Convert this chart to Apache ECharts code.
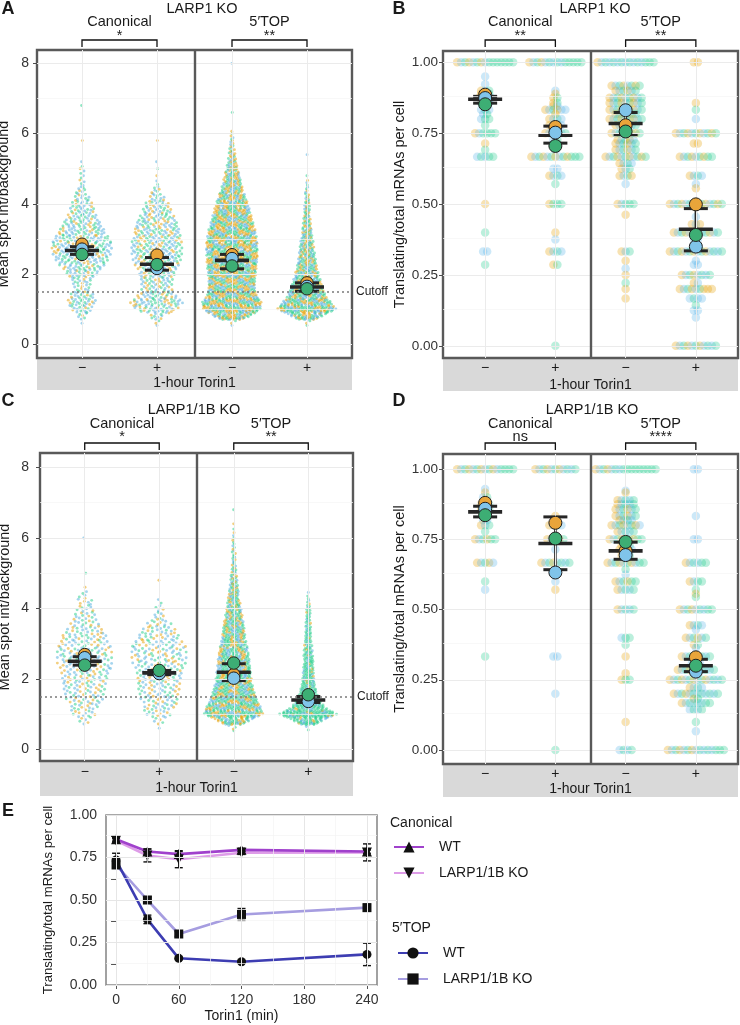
<!DOCTYPE html>
<html>
<head>
<meta charset="utf-8">
<title>LARP1 translation</title>
<script src="https://cdn.jsdelivr.net/npm/echarts@6.0.0/dist/echarts.min.js"></script>
<style>
html,body{margin:0;padding:0;background:#ffffff;}
#chart{width:740px;height:1025px;}
</style>
</head>
<body>
<div id="chart"></div>
<script>
// ======================= DATA =======================
const xCats = [1, 2, 3, 4];
const xTickLabels = ['\u2212', '+', '\u2212', '+'];
const xAxisTitle = '1-hour Torin1';
const spotTicks = [0, 2, 4, 6, 8];
const fracTicks = [0, 0.25, 0.5, 0.75, 1];
const panelTitles = ['LARP1 KO', 'LARP1 KO', 'LARP1/1B KO', 'LARP1/1B KO'];
const groupNames = ['Canonical', '5\u2032TOP'];
const sigLabels = [['*', '**'], ['**', '**'], ['*', '**'], ['ns', '****']];
const cutoffValue = 1.5;

// Panels A / C: number of cells per 0.2-wide bin of spot int/background, bins centred at 0.6, 0.8, 1.0 ...
const binStart = 0.6, binStep = 0.2;
const aCanMinus = [1, 6, 15, 21, 17, 10, 14, 23, 30, 37, 42, 43, 40, 34, 28, 22, 18, 15, 10, 7, 4, 3, 3, 1, 0, 0, 1, 0, 0, 0, 0, 1];
const aCanPlus  = [3, 10, 30, 39, 27, 21, 23, 27, 30, 34, 36, 36, 35, 33, 30, 26, 21, 17, 10, 6, 2, 1, 1, 1, 0, 0, 1];
const aTopMinus = [3, 60, 93, 96, 80, 75, 75, 78, 80, 82, 82, 82, 80, 77, 70, 64, 58, 51, 43, 35, 29, 24, 18, 13, 10, 7, 5, 3, 0, 0, 1, 0, 0, 0, 0, 0, 0, 1];
const aTopPlus  = [3, 50, 96, 78, 60, 52, 45, 38, 32, 28, 25, 22, 19, 16, 13, 11, 10, 9, 6, 4, 3, 1, 0, 0, 1];
const cCanMinus = [0, 5, 11, 14, 17, 18, 20, 22, 23, 25, 25, 25, 23, 22, 17, 13, 11, 8, 7, 4, 1, 0, 1, 0, 0, 0, 0, 1];
const cCanPlus  = [1, 5, 12, 16, 17, 18, 20, 21, 22, 24, 25, 25, 24, 20, 16, 11, 6, 4, 2, 0, 0, 1];
const cTopMinus = [4, 50, 96, 88, 75, 68, 62, 58, 55, 52, 50, 46, 42, 38, 35, 32, 28, 24, 20, 17, 14, 11, 9, 7, 6, 5, 4, 3, 2, 1, 0, 1];
const cTopPlus  = [2, 50, 105, 60, 42, 31, 25, 22, 20, 18, 17, 15, 13, 11, 10, 9, 8, 7, 4, 2];
// replicate shares (orange, blue, green) per group
const aShares = [[0.18, 0.45, 0.37], [0.26, 0.40, 0.34], [0.40, 0.28, 0.32], [0.30, 0.30, 0.40]];
const cShares = [[0.28, 0.42, 0.30], [0.28, 0.42, 0.30], [0.28, 0.26, 0.46], [0.08, 0.20, 0.72]];

// Panels B / D: [fraction, n orange, n blue, n green]
const bCanMinus = [[1, 3, 3, 9], [0.95, 0, 1, 0], [0.923, 0, 1, 0], [0.9, 1, 1, 1], [0.889, 1, 1, 1], [0.875, 1, 2, 1], [0.857, 0, 2, 1], [0.833, 0, 2, 1], [0.818, 0, 1, 1], [0.8, 0, 1, 2], [0.778, 0, 0, 1], [0.75, 1, 1, 4], [0.714, 1, 0, 0], [0.692, 0, 0, 1], [0.667, 0, 2, 3], [0.5, 1, 0, 0], [0.4, 0, 0, 1], [0.333, 0, 2, 0], [0.286, 0, 0, 1]];
const bCanPlus = [[1, 2, 4, 8], [0.9, 0, 1, 0], [0.889, 1, 0, 0], [0.875, 1, 0, 1], [0.857, 1, 0, 1], [0.846, 1, 1, 0], [0.833, 2, 3, 1], [0.818, 1, 0, 0], [0.8, 1, 2, 1], [0.778, 1, 2, 1], [0.75, 2, 2, 2], [0.727, 0, 1, 1], [0.714, 0, 1, 1], [0.692, 0, 1, 0], [0.667, 4, 3, 6], [0.625, 0, 2, 0], [0.6, 1, 2, 1], [0.571, 0, 0, 1], [0.5, 1, 0, 3], [0.4, 1, 0, 0], [0.375, 0, 1, 0], [0.333, 1, 2, 1], [0.286, 1, 0, 1], [0, 0, 0, 1]];
const bTopMinus = [[1, 1, 6, 8], [0.917, 3, 2, 3], [0.9, 2, 2, 2], [0.875, 3, 3, 3], [0.857, 3, 3, 3], [0.833, 3, 3, 3], [0.818, 2, 2, 2], [0.8, 3, 3, 3], [0.778, 2, 2, 2], [0.75, 3, 2, 3], [0.727, 2, 2, 1], [0.714, 2, 2, 2], [0.692, 2, 2, 2], [0.667, 4, 3, 4], [0.643, 1, 2, 1], [0.625, 1, 1, 1], [0.6, 2, 1, 1], [0.571, 0, 1, 0], [0.5, 1, 1, 3], [0.462, 1, 0, 0], [0.333, 1, 1, 1], [0.3, 1, 0, 0], [0.273, 0, 1, 0], [0.25, 1, 0, 0], [0.222, 0, 0, 1], [0.2, 1, 0, 0], [0.167, 1, 0, 0]];
const bTopPlus = [[1, 2, 0, 0], [0.857, 1, 0, 0], [0.833, 0, 0, 1], [0.8, 0, 1, 0], [0.75, 4, 3, 4], [0.714, 2, 0, 0], [0.667, 3, 2, 4], [0.6, 1, 2, 1], [0.571, 0, 1, 0], [0.556, 1, 0, 0], [0.5, 5, 4, 5], [0.455, 0, 1, 0], [0.429, 2, 1, 0], [0.4, 4, 4, 4], [0.375, 0, 2, 0], [0.333, 4, 5, 5], [0.3, 0, 1, 0], [0.286, 0, 2, 0], [0.25, 2, 3, 3], [0.222, 1, 1, 0], [0.2, 5, 2, 2], [0.167, 0, 3, 1], [0.143, 0, 0, 1], [0.125, 0, 2, 0], [0.1, 0, 1, 0], [0, 3, 4, 4]];
const dCanMinus = [[1, 4, 4, 7], [0.929, 0, 1, 0], [0.917, 1, 0, 0], [0.9, 0, 1, 1], [0.875, 1, 1, 1], [0.857, 1, 1, 1], [0.833, 0, 2, 0], [0.818, 0, 2, 0], [0.8, 1, 1, 1], [0.778, 0, 0, 1], [0.75, 2, 1, 3], [0.667, 2, 2, 1], [0.6, 0, 0, 1], [0.571, 0, 1, 0], [0.333, 0, 0, 1]];
const dCanPlus = [[1, 3, 4, 4], [0.833, 1, 0, 0], [0.8, 1, 2, 1], [0.75, 2, 1, 2], [0.714, 0, 1, 0], [0.667, 2, 3, 3], [0.625, 0, 1, 0], [0.6, 0, 1, 0], [0.571, 1, 0, 0], [0.333, 0, 2, 0], [0.2, 0, 1, 0], [0, 0, 0, 1]];
const dTopMinus = [[1, 2, 3, 11], [0.923, 0, 1, 0], [0.917, 1, 0, 0], [0.889, 1, 2, 2], [0.875, 1, 2, 2], [0.857, 2, 2, 2], [0.833, 2, 2, 2], [0.818, 1, 2, 1], [0.8, 3, 3, 2], [0.778, 1, 2, 2], [0.75, 3, 2, 4], [0.727, 1, 1, 1], [0.714, 1, 2, 1], [0.692, 1, 1, 1], [0.667, 3, 3, 4], [0.643, 0, 0, 1], [0.625, 0, 1, 0], [0.6, 2, 1, 3], [0.571, 1, 2, 2], [0.5, 1, 2, 2], [0.4, 0, 1, 2], [0.375, 0, 0, 1], [0.333, 1, 0, 0], [0.273, 1, 0, 0], [0.25, 1, 0, 2], [0.1, 1, 0, 0], [0, 0, 2, 2]];
const dTopPlus = [[1, 0, 2, 0], [0.833, 0, 1, 0], [0.75, 0, 2, 0], [0.667, 1, 2, 3], [0.6, 1, 1, 2], [0.571, 0, 0, 1], [0.556, 1, 0, 0], [0.545, 0, 0, 1], [0.5, 2, 3, 4], [0.444, 1, 2, 1], [0.429, 0, 1, 0], [0.4, 2, 2, 2], [0.375, 1, 0, 1], [0.364, 0, 1, 0], [0.333, 2, 3, 3], [0.308, 0, 2, 1], [0.286, 2, 4, 4], [0.25, 4, 5, 5], [0.222, 1, 2, 1], [0.2, 2, 5, 5], [0.182, 1, 0, 1], [0.167, 1, 3, 4], [0.143, 0, 2, 2], [0.1, 0, 0, 1], [0.067, 0, 1, 0], [0, 3, 5, 7]];

// replicate means (orange, blue, green) and mean +/- SE per group
const aMeanOrange = [2.85, 2.54, 2.55, 1.75];
const aMeanBlue   = [2.71, 2.16, 2.44, 1.65];
const aMeanGreen  = [2.56, 2.27, 2.23, 1.58];
const aBarMean = [2.67, 2.28, 2.39, 1.63];
const aBarLo   = [2.56, 2.11, 2.15, 1.51];
const aBarHi   = [2.78, 2.47, 2.56, 1.75];
const bMeanOrange = [0.886, 0.772, 0.778, 0.499];
const bMeanBlue   = [0.874, 0.752, 0.831, 0.350];
const bMeanGreen  = [0.852, 0.705, 0.756, 0.391];
const bBarMean = [0.870, 0.743, 0.784, 0.411];
const bBarLo   = [0.856, 0.715, 0.745, 0.335];
const bBarHi   = [0.880, 0.775, 0.823, 0.484];
const cMeanOrange = [2.69, 2.22, 2.12, 1.40];
const cMeanBlue   = [2.60, 2.15, 2.02, 1.36];
const cMeanGreen  = [2.39, 2.24, 2.45, 1.55];
const cBarMean = [2.50, 2.17, 2.19, 1.40];
const cBarLo   = [2.39, 2.12, 1.95, 1.33];
const cBarHi   = [2.63, 2.24, 2.43, 1.50];
const dMeanOrange = [0.880, 0.809, 0.709, 0.330];
const dMeanBlue   = [0.859, 0.632, 0.694, 0.279];
const dMeanGreen  = [0.836, 0.753, 0.741, 0.300];
const dBarMean = [0.848, 0.735, 0.709, 0.300];
const dBarLo   = [0.830, 0.642, 0.679, 0.279];
const dBarHi   = [0.868, 0.830, 0.740, 0.323];

// Panel E: time course
const eTime = [0, 30, 60, 120, 240];
const eXTicks = [0, 60, 120, 180, 240];
const eYTicks = [0, 0.25, 0.5, 0.75, 1];
const eCanWT     = [0.857, 0.785, 0.770, 0.795, 0.785];
const eCanWTerr  = [0.010, 0.015, 0.015, 0.010, 0.010];
const eCanKO     = [0.850, 0.762, 0.740, 0.778, 0.780];
const eCanKOerr  = [0.010, 0.038, 0.050, 0.010, 0.050];
const eTopWT     = [0.735, 0.386, 0.157, 0.137, 0.180];
const eTopWTerr  = [0.040, 0.025, 0.008, 0.008, 0.066];
const eTopKO     = [0.706, 0.500, 0.300, 0.415, 0.455];
const eTopKOerr  = [0.015, 0.018, 0.015, 0.035, 0.020];

// ======================= LAYOUT / STYLE =======================
const FONT = '"Liberation Sans", Arial, Helvetica, sans-serif';
const PAL_PT = ['#E69F00', '#4BABDD', '#1FCD88'];
const PAL_FRAC = ['#E69F00', '#56B4E9', '#1FCB8C'];
const PAL_MEAN = ['#E9A53A', '#80C4EA', '#3DAE74'];
const GRIDS = [
  {left: 37, top: 50, width: 315, height: 308},
  {left: 443, top: 51, width: 295, height: 307},
  {left: 40, top: 453, width: 313, height: 308},
  {left: 443, top: 454, width: 295, height: 310},
  {left: 106, top: 815, width: 271, height: 170}
];
const YRANGE = [[-0.39, 8.38], [-0.043, 1.04], [-0.33, 8.41], [-0.05, 1.054]];
const XRANGE = [0.4, 4.6];
const LABEL_MARGIN_Y = [8, 5, 11, 5];
const NAME_GAP_Y = [26, 36, 28, 36];
const NAME_GAP_X = [18, 20, 20, 17];
const LABEL_MARGIN_X = [3, 3, 4, 3];
const STRIP_H = [32, 33, 35, 33];
const TITLE_X = [202, 595, 194, 592];
const ROW_Y = [[9, 22, 36, 40], [9, 22, 36, 40], [410, 424, 437, 443], [410, 424, 437, 443]];

const swarmPanels = {
  0: {groups: [aCanMinus, aCanPlus, aTopMinus, aTopPlus], shares: aShares, dens: [0.7, 0.7, 1.6, 1.6]},
  2: {groups: [cCanMinus, cCanPlus, cTopMinus, cTopPlus], shares: cShares, dens: [0.45, 0.45, 1.6, 1.8]}
};
const fracPanels = {
  1: [bCanMinus, bCanPlus, bTopMinus, bTopPlus],
  3: [dCanMinus, dCanPlus, dTopMinus, dTopPlus]
};
const meansByPanel = [
  [aMeanOrange, aMeanBlue, aMeanGreen], [bMeanOrange, bMeanBlue, bMeanGreen],
  [cMeanOrange, cMeanBlue, cMeanGreen], [dMeanOrange, dMeanBlue, dMeanGreen]
];
const barsByPanel = [
  [aBarMean, aBarLo, aBarHi], [bBarMean, bBarLo, bBarHi],
  [cBarMean, cBarLo, cBarHi], [dBarMean, dBarLo, dBarHi]
];

function vdc(n) { let v = 0, d = 0.5; while (n > 0) { if (n & 1) v += d; n >>= 1; d *= 0.5; } return v; }
function pickColor(k, shares) {
  const u = ((k + 1) * 0.6180339887498949) % 1;
  return u < shares[0] ? 0 : (u < shares[0] + shares[1] ? 1 : 2);
}
// quasirandom beeswarm layout of binned counts
function swarm(xc, counts, shares, density, pxu) {
  const out = [];
  const w = counts.map(c => c / density);
  let k = 0;
  for (let b = 0; b < counts.length; b++) {
    const c = counts[b];
    const yc = binStart + b * binStep;
    for (let i = 0; i < c; i++) {
      const f = (i + 0.5) / c - 0.5;
      const y = yc + f * binStep;
      const nb = f < 0 ? b - 1 : b + 1;
      const wn = (nb >= 0 && nb < counts.length) ? w[nb] : 0;
      const ww = w[b] + (wn - w[b]) * Math.abs(f);
      const off = (vdc(i + 1 + b * 5) - 0.5) * ww;
      out.push([xc + off / pxu, y, pickColor(k++, shares)]);
    }
  }
  return out;
}
// side-by-side layout of points sharing one value
function rows(xc, list, spacePx, pxu) {
  const out = [];
  list.forEach(r => {
    const cnt = [r[1], r[2], r[3]];
    const cols = [];
    let left = cnt[0] + cnt[1] + cnt[2];
    while (left > 0) {
      for (let ci = 0; ci < 3; ci++) if (cnt[ci] > 0) { cols.push(ci); cnt[ci]--; left--; }
    }
    const n = cols.length;
    cols.forEach((ci, j) => out.push([xc + (j - (n - 1) / 2) * spacePx / pxu, r[0], ci]));
  });
  return out;
}
function midpoints(arr) { return arr.slice(1).map((v, i) => (v + arr[i]) / 2); }

function errRender(halfCross, halfCap) {
  return function (params, api) {
    const x = api.value(0), m = api.value(1), lo = api.value(2), hi = api.value(3);
    const pm = api.coord([x, m]), pl = api.coord([x, lo]), ph = api.coord([x, hi]);
    const c = '#262626';
    return {type: 'group', children: [
      {type: 'line', shape: {x1: pl[0], y1: pl[1], x2: ph[0], y2: ph[1]}, style: {stroke: c, lineWidth: 2.5}},
      {type: 'line', shape: {x1: pl[0] - halfCap, y1: pl[1], x2: pl[0] + halfCap, y2: pl[1]}, style: {stroke: c, lineWidth: 3}},
      {type: 'line', shape: {x1: ph[0] - halfCap, y1: ph[1], x2: ph[0] + halfCap, y2: ph[1]}, style: {stroke: c, lineWidth: 3}},
      {type: 'line', shape: {x1: pm[0] - halfCross, y1: pm[1], x2: pm[0] + halfCross, y2: pm[1]}, style: {stroke: c, lineWidth: 3.6}}
    ]};
  };
}
function eErrRender(params, api) {
  const x = api.value(0), lo = api.value(1), hi = api.value(2);
  const pl = api.coord([x, lo]), ph = api.coord([x, hi]);
  const st = {stroke: '#111', lineWidth: 1.4};
  return {type: 'group', children: [
    {type: 'line', shape: {x1: pl[0], y1: pl[1], x2: ph[0], y2: ph[1]}, style: st},
    {type: 'line', shape: {x1: pl[0] - 4, y1: pl[1], x2: pl[0] + 4, y2: pl[1]}, style: st},
    {type: 'line', shape: {x1: ph[0] - 4, y1: ph[1], x2: ph[0] + 4, y2: ph[1]}, style: st}
  ]};
}

const xAxes = [], yAxes = [], series = [];
for (let p = 0; p < 4; p++) {
  const isFrac = (p === 1 || p === 3);
  const ticks = isFrac ? fracTicks : spotTicks;
  const g = GRIDS[p];
  const pxu = g.width / (XRANGE[1] - XRANGE[0]);
  xAxes.push({
    type: 'value', gridIndex: p, min: XRANGE[0], max: XRANGE[1],
    axisLine: {show: false}, axisTick: {show: false}, splitLine: {show: false},
    axisLabel: {customValues: xCats, formatter: v => xTickLabels[xCats.indexOf(Math.round(v))],
      fontSize: 14, color: '#1a1a1a', margin: LABEL_MARGIN_X[p], fontFamily: FONT},
    name: xAxisTitle, nameLocation: 'middle', nameGap: NAME_GAP_X[p],
    nameTextStyle: {fontSize: 14, color: '#1a1a1a', fontFamily: FONT},
    z: 10
  });
  yAxes.push({
    type: 'value', gridIndex: p, min: YRANGE[p][0], max: YRANGE[p][1],
    axisLine: {show: false},
    axisTick: {show: true, customValues: ticks, length: 4, lineStyle: {color: '#4d4d4d', width: 1}},
    axisLabel: {customValues: ticks, formatter: v => isFrac ? v.toFixed(2) : String(v),
      fontSize: isFrac ? 13.5 : 14, color: '#333', margin: LABEL_MARGIN_Y[p], fontFamily: FONT},
    splitLine: {show: false},
    name: isFrac ? 'Translating/total mRNAs per cell' : 'Mean spot int/background',
    nameLocation: 'middle', nameGap: NAME_GAP_Y[p],
    nameTextStyle: {fontSize: 14.5, color: '#1a1a1a', fontFamily: FONT}
  });
  // grid lines
  const gl = [];
  ticks.forEach(v => gl.push({yAxis: v, lineStyle: {color: '#ebebeb', width: 1, type: 'solid'}}));
  midpoints(ticks).forEach(v => gl.push({yAxis: v, lineStyle: {color: '#f5f5f5', width: 0.7, type: 'solid'}}));
  xCats.forEach(v => gl.push({xAxis: v, lineStyle: {color: '#ebebeb', width: 1, type: 'solid'}}));
  series.push({
    type: 'scatter', xAxisIndex: p, yAxisIndex: p, data: [[1, 0]], symbolSize: 0, silent: true, z: 1,
    markLine: {silent: true, symbol: ['none', 'none'], animation: false, label: {show: false}, data: gl}
  });
  // raw points
  let pts = [];
  if (!isFrac) {
    const sp = swarmPanels[p];
    sp.groups.forEach((counts, gi) => { pts = pts.concat(swarm(xCats[gi], counts, sp.shares[gi], sp.dens[gi], pxu)); });
    series.push({
      type: 'scatter', xAxisIndex: p, yAxisIndex: p, data: pts, symbolSize: 2.9, silent: true, z: 2,
      progressive: 0, large: false,
      itemStyle: {color: prm => PAL_PT[prm.value[2]], opacity: 0.5}
    });
  } else {
    fracPanels[p].forEach((list, gi) => { pts = pts.concat(rows(xCats[gi], list, 4, pxu)); });
    series.push({
      type: 'scatter', xAxisIndex: p, yAxisIndex: p, data: pts, symbolSize: 8.5, silent: true, z: 2,
      progressive: 0,
      itemStyle: {color: prm => PAL_FRAC[prm.value[2]], opacity: 0.3}
    });
  }
  // divider & cutoff
  const ov = [{xAxis: 2.5, lineStyle: {color: '#595959', width: 2.4, type: 'solid'}}];
  if (!isFrac) {
    ov.push({yAxis: cutoffValue, lineStyle: {color: '#7a7a7a', width: 1.5, type: [2, 3]},
      label: {show: true, position: 'end', formatter: 'Cutoff', color: '#222', fontSize: 12, fontFamily: FONT, distance: 4}});
  }
  series.push({
    type: 'scatter', xAxisIndex: p, yAxisIndex: p, data: [[1, 0]], symbolSize: 0, silent: true, z: 3,
    markLine: {silent: true, symbol: ['none', 'none'], animation: false, label: {show: false}, data: ov}
  });
  // error bars
  const bars = barsByPanel[p];
  series.push({
    type: 'custom', xAxisIndex: p, yAxisIndex: p, silent: true, z: 4,
    renderItem: errRender(17, 12),
    encode: {x: 0, y: 1},
    data: xCats.map((x, i) => [x, bars[0][i], bars[1][i], bars[2][i]])
  });
  // replicate means
  const mdata = [];
  meansByPanel[p].forEach((arr, ci) => arr.forEach((v, i) => mdata.push([xCats[i], v, ci])));
  series.push({
    type: 'scatter', xAxisIndex: p, yAxisIndex: p, data: mdata, symbolSize: isFrac ? 13 : 12.5, silent: true, z: 5,
    itemStyle: {color: prm => PAL_MEAN[prm.value[2]], borderColor: '#1f1f1f', borderWidth: 1, opacity: 1}
  });
}

// ---- Panel E ----
xAxes.push({
  type: 'value', gridIndex: 4, min: -9.6, max: 249.6,
  axisLine: {show: false},
  axisTick: {show: true, customValues: eXTicks, length: 4, lineStyle: {color: '#555'}},
  axisLabel: {customValues: eXTicks, fontSize: 14, color: '#333', margin: 8, fontFamily: FONT},
  splitLine: {show: false},
  name: 'Torin1 (min)', nameLocation: 'middle', nameGap: 24,
  nameTextStyle: {fontSize: 14, color: '#1a1a1a', fontFamily: FONT}
});
const eYTickMarks = eYTicks.concat(midpoints(eYTicks)).sort((a, b) => a - b);
yAxes.push({
  type: 'value', gridIndex: 4, min: 0, max: 1,
  axisLine: {show: false},
  axisTick: {show: true, customValues: eYTickMarks, length: 5, lineStyle: {color: '#555'}},
  axisLabel: {customValues: eYTicks, formatter: v => v.toFixed(2), fontSize: 14, color: '#333', margin: 9, fontFamily: FONT},
  splitLine: {show: false},
  name: 'Translating/total mRNAs per cell', nameLocation: 'middle', nameGap: 51,
  nameTextStyle: {fontSize: 13.2, color: '#1a1a1a', fontFamily: FONT}
});
const egl = [];
eXTicks.forEach(v => egl.push({xAxis: v, lineStyle: {color: '#e6e6e6', width: 1, type: 'solid'}}));
midpoints(eXTicks).forEach(v => egl.push({xAxis: v, lineStyle: {color: '#f3f3f3', width: 0.7, type: 'solid'}}));
eYTicks.forEach(v => egl.push({yAxis: v, lineStyle: {color: '#e6e6e6', width: 1, type: 'solid'}}));
midpoints(eYTicks).forEach(v => egl.push({yAxis: v, lineStyle: {color: '#f3f3f3', width: 0.7, type: 'solid'}}));
series.push({
  type: 'scatter', xAxisIndex: 4, yAxisIndex: 4, data: [[0, 0]], symbolSize: 0, silent: true, z: 1,
  markLine: {silent: true, symbol: ['none', 'none'], animation: false, label: {show: false}, data: egl}
});
const eDefs = [
  {name: 'Canonical WT', vals: eCanWT, err: eCanWTerr, color: '#A041CC', symbol: 'triangle', rot: 0, size: 10},
  {name: 'Canonical LARP1/1B KO', vals: eCanKO, err: eCanKOerr, color: '#DE9CE8', symbol: 'triangle', rot: 180, size: 10},
  {name: '5\u2032TOP WT', vals: eTopWT, err: eTopWTerr, color: '#3D3DB2', symbol: 'circle', rot: 0, size: 9},
  {name: '5\u2032TOP LARP1/1B KO', vals: eTopKO, err: eTopKOerr, color: '#A69DE0', symbol: 'rect', rot: 0, size: 9}
];
eDefs.slice().reverse().forEach(d => {
  series.push({
    type: 'line', name: d.name, xAxisIndex: 4, yAxisIndex: 4,
    data: eTime.map((t, i) => [t, d.vals[i]]),
    symbol: d.symbol, symbolSize: d.size, symbolRotate: d.rot, showAllSymbol: true,
    lineStyle: {color: d.color, width: 2.6}, itemStyle: {color: '#111'}, z: 3, silent: true
  });
  series.push({
    type: 'custom', xAxisIndex: 4, yAxisIndex: 4, silent: true, z: 4, renderItem: eErrRender,
    encode: {x: 0, y: 1},
    data: eTime.map((t, i) => [t, d.vals[i] - d.err[i], d.vals[i] + d.err[i]])
  });
});
const legendFmt = name => name.replace('Canonical ', '').replace('5\u2032TOP ', '');
const legendCommon = {
  orient: 'vertical', itemGap: 12, itemWidth: 30, itemHeight: 14, padding: 0, selectedMode: false,
  formatter: legendFmt,
  textStyle: {fontSize: 14, color: '#1a1a1a', fontFamily: FONT, padding: [0, 0, 0, 10]}
};

const option = {
  animation: false,
  backgroundColor: '#ffffff',
  textStyle: {fontFamily: FONT},
  grid: GRIDS.map((g, i) => ({
    left: g.left, top: g.top, width: g.width, height: g.height, show: true,
    borderColor: i < 4 ? '#595959' : '#8a8a8a', borderWidth: i < 4 ? 2.4 : 1.6,
    backgroundColor: 'rgba(0,0,0,0)', containLabel: false, outerBoundsMode: 'none'
  })),
  xAxis: xAxes,
  yAxis: yAxes,
  legend: [
    Object.assign({}, legendCommon, {left: 393, top: 840, data: ['Canonical WT', 'Canonical LARP1/1B KO']}),
    Object.assign({}, legendCommon, {left: 397, top: 946, data: ['5\u2032TOP WT', '5\u2032TOP LARP1/1B KO']})
  ],
  series: series
};

const chart = echarts.init(document.getElementById('chart'), null, {renderer: 'canvas'});
chart.setOption(option);

// ---- annotations (positions derived from the axes) ----
function txt(text, x, y, size, weight, align) {
  return {type: 'text', x: x, y: y, z: 20, silent: true,
    style: {text: text, fill: '#1a1a1a', font: (weight || 'normal') + ' ' + size + 'px ' + FONT,
      align: align || 'center', verticalAlign: 'middle', textAlign: align || 'center', textVerticalAlign: 'middle'}};
}
const graphics = [];
for (let p = 0; p < 4; p++) {
  const bl = chart.convertToPixel({gridIndex: p}, [XRANGE[0], YRANGE[p][0]]);
  const br = chart.convertToPixel({gridIndex: p}, [XRANGE[1], YRANGE[p][0]]);
  graphics.push({type: 'rect', z: -5, silent: true,
    shape: {x: bl[0], y: bl[1], width: br[0] - bl[0], height: STRIP_H[p]}, style: {fill: '#d9d9d9'}});
  const ry = ROW_Y[p];
  graphics.push(txt(panelTitles[p], TITLE_X[p], ry[0], 14.5));
  [[0, 1], [2, 3]].forEach((pair, k) => {
    const x1 = chart.convertToPixel({gridIndex: p}, [xCats[pair[0]], 0])[0];
    const x2 = chart.convertToPixel({gridIndex: p}, [xCats[pair[1]], 0])[0];
    const mid = (x1 + x2) / 2;
    graphics.push(txt(groupNames[k], mid, ry[1], 14.5));
    graphics.push(txt(sigLabels[p][k], mid, ry[2], 14.5));
    graphics.push({type: 'polyline', z: 20, silent: true,
      shape: {points: [[x1, ry[3] + 7], [x1, ry[3]], [x2, ry[3]], [x2, ry[3] + 7]]},
      style: {stroke: '#111', lineWidth: 1.3, fill: null}});
  });
}
graphics.push(txt('A', 8, 9, 18, 'bold'));
graphics.push(txt('B', 399, 9, 18, 'bold'));
graphics.push(txt('C', 8, 401, 18, 'bold'));
graphics.push(txt('D', 399, 401, 18, 'bold'));
graphics.push(txt('E', 8, 811, 18, 'bold'));
graphics.push(txt('Canonical', 390, 823, 14, 'normal', 'left'));
graphics.push(txt('5\u2032TOP', 392, 928, 14, 'normal', 'left'));
chart.setOption({graphic: {elements: graphics}});
</script>
</body>
</html>
